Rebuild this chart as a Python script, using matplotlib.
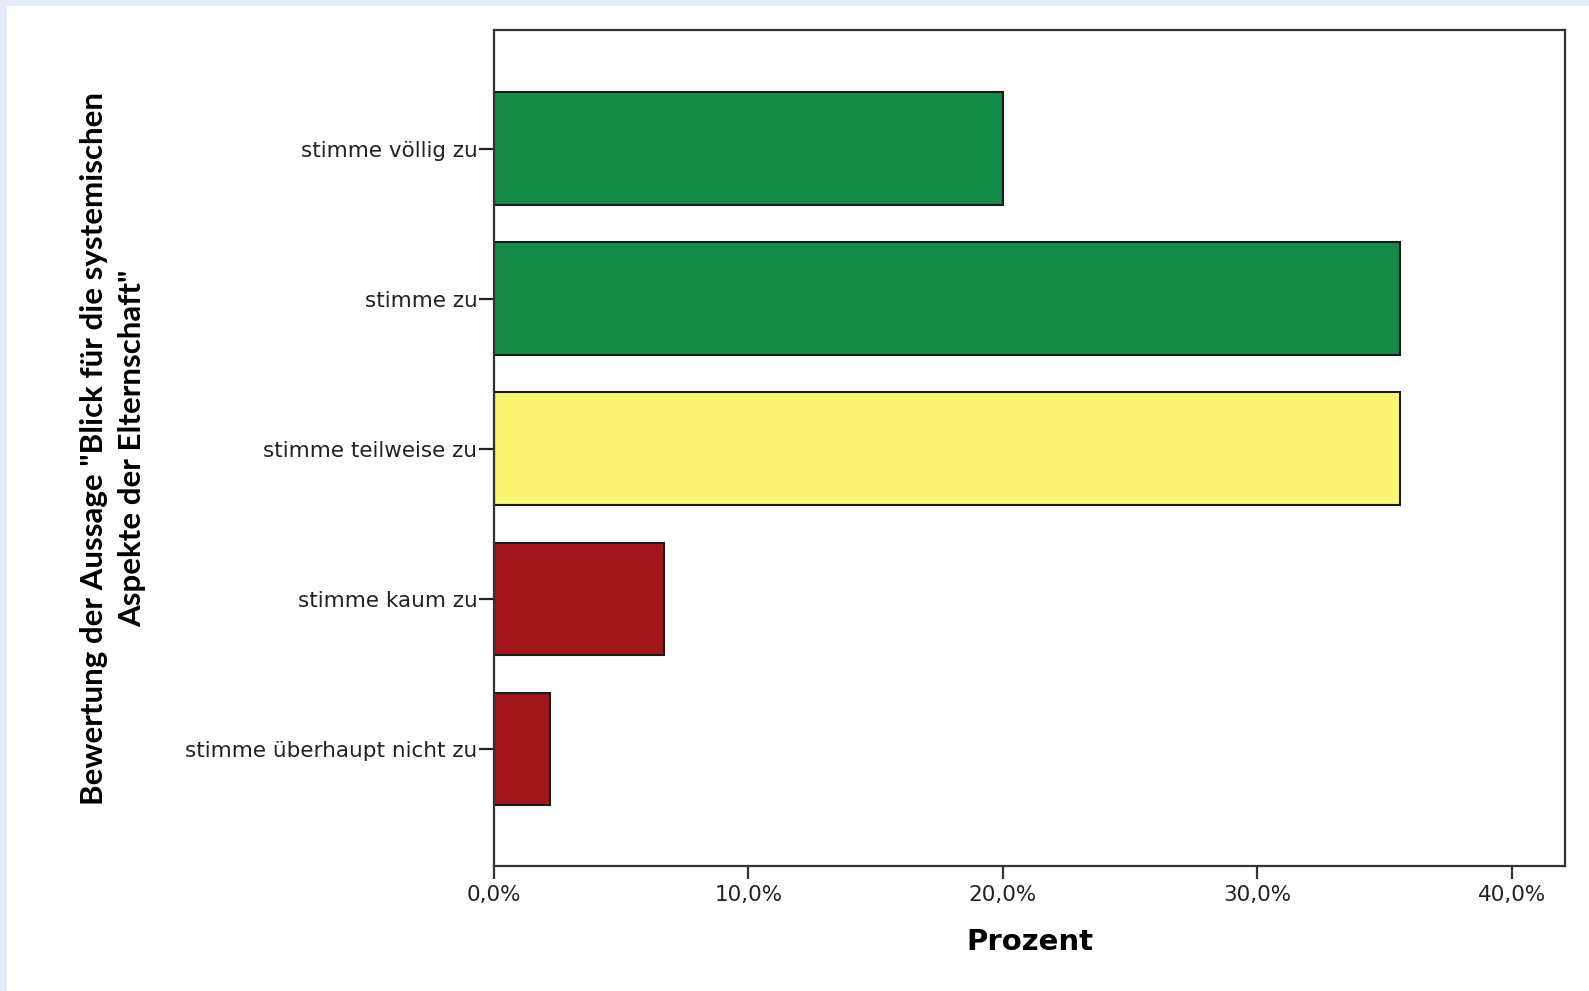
import numpy as np
import matplotlib.pyplot as plt
from matplotlib.ticker import FuncFormatter

# Bewertung der Aussage (n = 45), Anteile in Prozent
kategorien = ["stimme völlig zu", "stimme zu", "stimme teilweise zu",
              "stimme kaum zu", "stimme überhaupt nicht zu"]
prozent = [20.0, 35.6, 35.6, 6.7, 2.2]
farben = ["#138A45", "#138A45", "#FAF671", "#A0161A", "#A0161A"]
xticks = [0, 10, 20, 30, 40]

fig = plt.figure(figsize=(15.89, 9.91), dpi=100, facecolor="#E6EBFB")
# weisser Hintergrund (oben/links schmaler blauer Rand)
fig.patches.append(plt.Rectangle((7/1589, 0), 1, 1 - 6/991, transform=fig.transFigure,
                                 facecolor="white", edgecolor="none", zorder=-1))

ax = fig.add_axes([494/1589, 1 - 866/991, (1565 - 494)/1589, (866 - 30)/991])
ax.set_facecolor("white")

y = np.arange(len(kategorien))
ax.barh(y, prozent, height=0.75, color=farben, edgecolor="#1a1a1a", linewidth=1.5, zorder=2)

ax.set_xlim(0, 42.1)
ax.set_ylim(4.78, -0.79)
ax.set_yticks(y)
ax.set_yticklabels(kategorien, fontsize=15.5, family="DejaVu Sans", color="#222222")
ax.set_xticks(xticks)
ax.xaxis.set_major_formatter(FuncFormatter(lambda v, p: f"{v:.1f}%".replace(".", ",")))
for lab in ax.get_xticklabels():
    lab.set_fontsize(15.5)
    lab.set_color("#222222")

for s in ax.spines.values():
    s.set_linewidth(1.6)
    s.set_color("#333333")
ax.tick_params(axis="x", length=9, width=1.6, color="#333333", pad=5)
ax.tick_params(axis="y", length=11, width=1.6, color="#222222", pad=1)

ax.set_xlabel("Prozent", fontsize=21, fontweight="bold", family="DejaVu Sans", labelpad=16)
ax.set_ylabel('Bewertung der Aussage "Blick für die systemischen\nAspekte der Elternschaft"',
              fontsize=22.5, fontweight="bold", family=["Lato", "DejaVu Sans"],
              linespacing=1.45)
ax.yaxis.set_label_coords(-0.325, 0.5)

fig.savefig("out.png", dpi=100, facecolor=fig.get_facecolor())
